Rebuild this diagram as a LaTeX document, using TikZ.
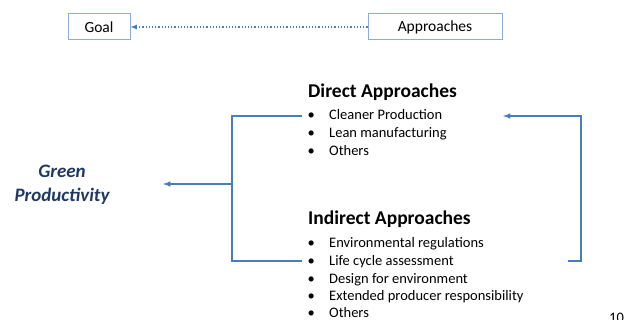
\documentclass[tikz,border=0pt]{standalone}
\usepackage{fontspec}
\setmainfont{Carlito}
\usetikzlibrary{arrows}
\definecolor{lineblue}{HTML}{4A7EBB}
\definecolor{boxblue}{HTML}{8FAADC}
\definecolor{navy}{HTML}{203864}
\tikzstyle{tagbox}=[draw=boxblue,line width=1pt,minimum height=26pt,inner sep=0pt,font=\fontsize{15.5}{18}\selectfont]
\tikzstyle{head}=[anchor=base west,inner sep=0pt,font=\fontsize{19.5}{22}\selectfont\bfseries]
\tikzstyle{item}=[anchor=base west,inner sep=0pt,font=\fontsize{14.5}{17}\selectfont]
\tikzstyle{link}=[draw,lineblue,line width=1.5pt]
\tikzstyle{arr}=[link,-latex]

\begin{document}
\begin{tikzpicture}[x=1pt,y=-1pt]
    \useasboundingbox (0,0) rectangle (624,320);

    % top row
    \node[tagbox,minimum width=62pt] (goal) at (99,27) {Goal};
    \node[tagbox,minimum width=134pt] (appr) at (435,27) {Approaches};
    \path[arr,line width=1.2pt,dotted] (appr) -- (goal);

    % the two lists
    \node[head] (direct) at (308,98) {Direct Approaches};
    \foreach \y/\name/\txt in {120/cp/Cleaner Production,
        138/lean/Lean manufacturing, 156/dother/Others}
        \node[item] (\name) at (307.5,\y) {\makebox[21.5pt][l]{\textbullet}\txt};

    \node[head] (indirect) at (308,225) {Indirect Approaches};
    \foreach \y/\name/\txt in {248/envreg/Environmental regulations,
        266/lca/Life cycle assessment, 283.5/dfe/Design for environment,
        301/epr/Extended producer responsibility, 318/iother/Others}
        \node[item] (\name) at (307.5,\y) {\makebox[21.5pt][l]{\textbullet}\txt};

    \node[font=\fontsize{19}{23.5}\selectfont\bfseries\itshape,text=navy,
        align=center] (gp) at (62,185) {Green\\Productivity};

    % brackets
    \coordinate (lt) at (302,116);
    \coordinate (lb) at (302,261);
    \coordinate (fork) at (232,184);
    \coordinate (tip) at (163,184);
    \coordinate (rb) at (568,261);
    \coordinate (rt) at (503,116);
    \path[link] (lt) -- ++(-70,0) |- (lb);
    \path[arr] (fork) -- (tip);
    \path[arr] (rb) -- ++(13,0) |- (rt);

    \node[item] (pageno) at (609,322.5) {10};
\end{tikzpicture}
\end{document}
